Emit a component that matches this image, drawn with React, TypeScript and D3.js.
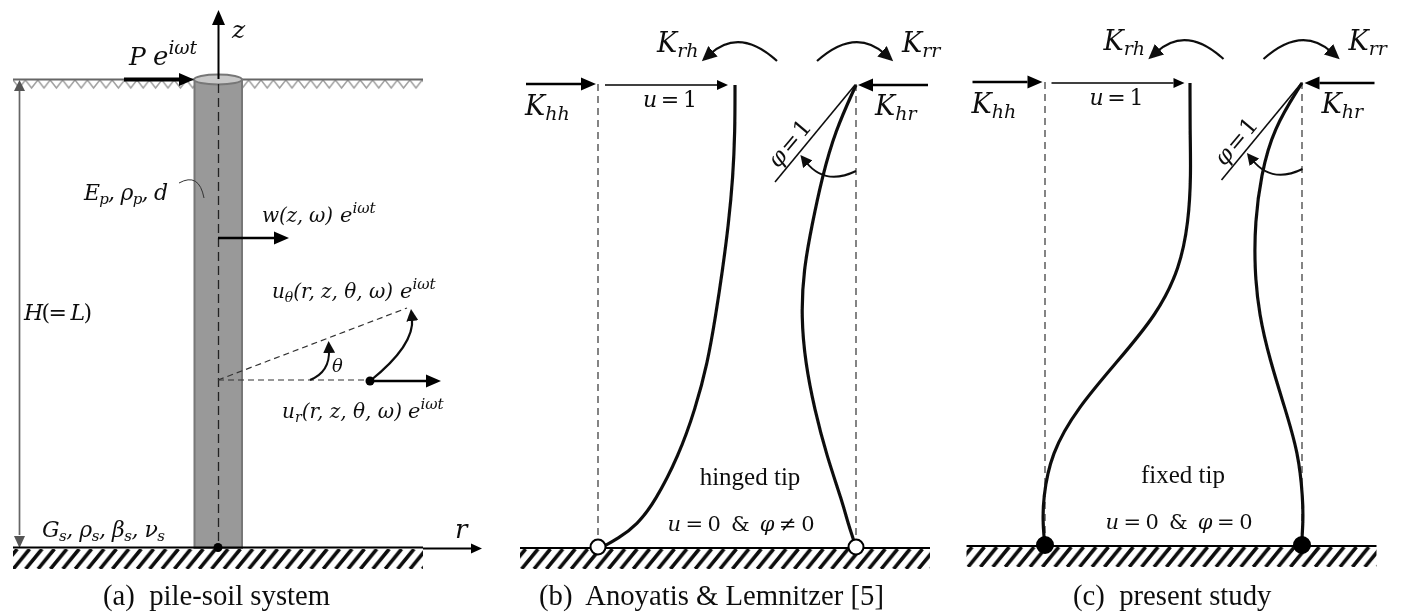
import React from 'react';
import * as d3 from 'd3';

// depth along the pile, 0 = head, 1 = tip
const depths = [0, 0.1, 0.2, 0.3, 0.4, 0.5, 0.6, 0.7, 0.8, 0.9, 0.95, 0.98, 1];

// deflected shapes, in units of the head displacement
const hingedU = [1, 1, 0.985, 0.953, 0.909, 0.858, 0.8, 0.71, 0.59, 0.416, 0.285, 0.146, 0.02];
const hingedPhi = [0, 0.153, 0.248, 0.32, 0.383, 0.4, 0.37, 0.303, 0.215, 0.1, 0.055, 0.02, 0];
const fixedU = [1, 1, 1.007, 0.99, 0.93, 0.772, 0.503, 0.228, 0.04, -0.014, -0.014, -0.007, 0];
const fixedPhi = [0, 0.2, 0.283, 0.324, 0.328, 0.297, 0.22, 0.12, 0.024, -0.007, -0.007, 0, 0];

const captions = ['(a)  pile-soil system', '(b)  Anoyatis & Lemnitzer [5]', '(c)  present study'];
const tipLabels = ['hinged tip', 'fixed tip'];
const tipConditions = ['u = 0  &  φ ≠ 0', 'u = 0  &  φ = 0'];

const SERIF = '"Liberation Serif", serif';
const MATH = '"DejaVu Serif", serif';

const yDepth = d3.scaleLinear().domain([0, 1]).range([85, 548]);

function shape(values: number[], x: d3.ScaleLinear<number, number>) {
  const line = d3
    .line<number>()
    .x((v) => x(v))
    .y((_, i) => yDepth(depths[i]))
    .curve(d3.curveBasis);
  return line(values) || '';
}

function Arrow({ x1, y1, x2, y2, w = 2, color = '#000', head = 'big' }: any) {
  const a = Math.atan2(y2 - y1, x2 - x1);
  const l = head === 'big' ? 15 : 11;
  const r = head === 'big' ? 6.5 : 5;
  const bx = x2 - l * Math.cos(a);
  const by = y2 - l * Math.sin(a);
  const pts = [
    [x2, y2],
    [bx - r * Math.sin(a), by + r * Math.cos(a)],
    [bx + r * Math.sin(a), by - r * Math.cos(a)],
  ];
  return (
    <g>
      <line x1={x1} y1={y1} x2={bx} y2={by} stroke={color} strokeWidth={w} />
      <polygon points={pts.map((p) => p.join(',')).join(' ')} fill={color} />
    </g>
  );
}

// symbols italic, digits and operators upright
function Mixed({ s }: { s: string }) {
  return (
    <>
      {s.split(/([uφ])/).map((part, i) => (
        <tspan key={i} fontStyle={part === 'u' || part === 'φ' ? 'italic' : 'normal'}>
          {part}
        </tspan>
      ))}
    </>
  );
}

// main symbol with subscript
function Sym({ x, y, main, sub, size = 27, subSize = 19 }: any) {
  return (
    <text x={x} y={y} fontFamily={MATH} fontSize={size} fontStyle="italic" fill="#111">
      {main}
      {sub && (
        <tspan fontSize={subSize} dy={5}>
          {sub}
        </tspan>
      )}
    </text>
  );
}

function Exp({ x, y, size = 21 }: any) {
  return (
    <text x={x} y={y} fontFamily={MATH} fontSize={size} fontStyle="italic" fill="#111">
      e
      <tspan fontSize={size * 0.72} dy={-size * 0.42}>
        iωt
      </tspan>
    </text>
  );
}

function Panel({ dx, u, phi, uX, phiX, label, labelX, condition, condX, fixed }: any) {
  const leftX = uX(0);
  const rightX = phiX(0);
  return (
    <g>
      <rect x={dx + 520} y={549} width={410} height={20} fill="url(#hatch)" />
      <line x1={dx + 520} x2={dx + 930} y1={548} y2={548} stroke="#000" strokeWidth={2} />

      <line x1={leftX} x2={leftX} y1={84} y2={540} stroke="#444" strokeWidth={1.3} strokeDasharray="7 5" />
      <line x1={rightX} x2={rightX} y1={84} y2={540} stroke="#444" strokeWidth={1.3} strokeDasharray="7 5" />

      <path d={shape(u, uX)} fill="none" stroke="#111" strokeWidth={3.2} />
      <path d={shape(phi, phiX)} fill="none" stroke="#111" strokeWidth={3.2} />

      <circle cx={leftX} cy={547} r={fixed ? 8 : 7.5} fill={fixed ? '#000' : '#fff'} stroke="#000" strokeWidth={2} />
      <circle cx={rightX} cy={547} r={fixed ? 8 : 7.5} fill={fixed ? '#000' : '#fff'} stroke="#000" strokeWidth={2} />

      <Arrow x1={dx + 526} y1={84} x2={dx + 596} y2={84} w={2.5} />
      <Arrow x1={dx + 605} y1={85} x2={dx + (fixed ? 738 : 728)} y2={85} w={1.7} head="small" />
      <Arrow x1={dx + 928} y1={85} x2={dx + 858} y2={85} w={2.5} />

      <line x1={dx + 855} y1={85} x2={dx + 775} y2={182} stroke="#111" strokeWidth={1.6} />
      <path
        d={`M${dx + 856},171 Q${dx + 825},186 ${dx + 806},162`}
        fill="none"
        stroke="#111"
        strokeWidth={2}
        markerEnd="url(#headSmall)"
      />
      <text
        transform={`translate(${dx + 778},169) rotate(-50)`}
        fontFamily={MATH}
        fontSize={23}
        fill="#111"
        textLength={54}
      >
        <Mixed s="φ = 1" />
      </text>

      <path d={`M${dx + 777},61 Q${dx + 740},27 ${dx + 710},54`} fill="none" stroke="#111" strokeWidth={2.2} markerEnd="url(#headBig)" />
      <path d={`M${dx + 817},61 Q${dx + 855},27 ${dx + 885},54`} fill="none" stroke="#111" strokeWidth={2.2} markerEnd="url(#headBig)" />

      <Sym x={dx + 657} y={52} main="K" sub="rh" />
      <Sym x={dx + 902} y={52} main="K" sub="rr" />
      <Sym x={dx + 525} y={115} main="K" sub="hh" />
      <Sym x={dx + 875} y={115} main="K" sub="hr" />
      <text x={dx + 643} y={107} fontFamily={MATH} fontSize={22} fill="#111" textLength={54}>
        <Mixed s="u = 1" />
      </text>

      <text x={labelX} y={485} textAnchor="middle" fontFamily={SERIF} fontSize={25} fill="#111">
        {label}
      </text>
      <text x={condX} y={531} textAnchor="middle" fontFamily={MATH} fontSize={21} fill="#111" xmlSpace="preserve" textLength={147}>
        <Mixed s={condition} />
      </text>
    </g>
  );
}

export default function App() {
  const uB = d3.scaleLinear().domain([0, 1]).range([598, 735]);
  const phiB = d3.scaleLinear().domain([0, 1]).range([856, 719]);
  const uC = d3.scaleLinear().domain([0, 1]).range([1045, 1190]);
  const phiC = d3.scaleLinear().domain([0, 1]).range([1302, 1157]);

  return (
    <svg
      width={1402}
      height={613}
      viewBox="0 0 1402 613"
      style={{ position: 'absolute', left: 0, top: 0, background: '#fff' }}
    >
      <defs>
        <pattern id="hatch" patternUnits="userSpaceOnUse" width={12.4} height={20} patternTransform="translate(13,549)">
          <path
            d="M-12.2,20 L4.2,0 M0.2,20 L16.6,0 M12.6,20 L29,0 M-24.6,20 L-8.2,0"
            stroke="#111"
            strokeWidth={3.6}
          />
        </pattern>
        <pattern id="zig" patternUnits="userSpaceOnUse" width={12.4} height={10} patternTransform="translate(13,80)">
          <path d="M0,0 L6.2,8 L12.4,0" fill="none" stroke="#a0a0a0" strokeWidth={1.5} />
        </pattern>
        <marker id="headBig" markerUnits="userSpaceOnUse" markerWidth={18} markerHeight={14} refX={4} refY={7} orient="auto">
          <path d="M0,0 L15,7 L0,14 Z" fill="#111" />
        </marker>
        <marker id="headSmall" markerUnits="userSpaceOnUse" markerWidth={14} markerHeight={12} refX={3} refY={6} orient="auto">
          <path d="M0,0 L12,6 L0,12 Z" fill="#111" />
        </marker>
        <filter id="soft" x="0" y="0" width="100%" height="100%">
          <feGaussianBlur stdDeviation={0.45} />
        </filter>
      </defs>

      <g filter="url(#soft)">
        {/* (a) pile-soil system */}
        <rect x={13} y={80} width={410} height={10} fill="url(#zig)" />
        <line x1={13} x2={423} y1={79.5} y2={79.5} stroke="#666" strokeWidth={2} />

        <rect x={194.5} y={80} width={47.5} height={468} fill="#999" stroke="#777" strokeWidth={2} />
        <ellipse cx={218} cy={79.5} rx={24} ry={5} fill="#c8c8c8" stroke="#777" strokeWidth={2} />

        <line x1={19.5} x2={19.5} y1={90} y2={535} stroke="#666" strokeWidth={1.7} />
        <polygon points="19.5,80 14,91 25,91" fill="#555" />
        <polygon points="19.5,548 14,536 25,536" fill="#555" />

        <rect x={13} y={549} width={410} height={20} fill="url(#hatch)" />
        <line x1={13} x2={423} y1={547.5} y2={547.5} stroke="#000" strokeWidth={2} />

        <line x1={218.5} x2={218.5} y1={84} y2={545} stroke="#222" strokeWidth={1.3} strokeDasharray="9 5" />
        <Arrow x1={218.5} y1={79} x2={218.5} y2={10} w={2} />
        <Arrow x1={423} y1={548.5} x2={482} y2={548.5} w={1.8} head="small" />
        <Arrow x1={124} y1={79.5} x2={194} y2={79.5} w={4} />
        <circle cx={218} cy={547.5} r={4.5} fill="#000" />

        <Sym x={129} y={65} main="P" size={25} />
        <Exp x={153} y={65} size={26} />
        <Sym x={232} y={38} main="z" size={25} />

        <text x={84} y={200} fontFamily={MATH} fontSize={22} fontStyle="italic" fill="#111" textLength={84}>
          E
          <tspan fontSize={15} dy={4}>
            p
          </tspan>
          <tspan dy={-4}>, ρ</tspan>
          <tspan fontSize={15} dy={4}>
            p
          </tspan>
          <tspan dy={-4}>, d</tspan>
        </text>
        <path d="M179,183 Q199,172 204,198" fill="none" stroke="#333" strokeWidth={1} />

        <Arrow x1={218} y1={238} x2={289} y2={238} w={2.6} />
        <text x={262} y={222} fontFamily={MATH} fontSize={20} fontStyle="italic" fill="#111" textLength={71}>
          w(z, ω)
        </text>
        <Exp x={340} y={222} size={21} />

        <text x={272} y={298} fontFamily={MATH} fontSize={20} fontStyle="italic" fill="#111" textLength={121}>
          u
          <tspan fontSize={14} dy={4}>
            θ
          </tspan>
          <tspan dy={-4}>(r, z, θ, ω)</tspan>
        </text>
        <Exp x={400} y={298} size={21} />
        <text x={282} y={418} fontFamily={MATH} fontSize={20} fontStyle="italic" fill="#111" textLength={120}>
          u
          <tspan fontSize={14} dy={4}>
            r
          </tspan>
          <tspan dy={-4}>(r, z, θ, ω)</tspan>
        </text>
        <Exp x={408} y={418} size={21} />

        <line x1={218} y1={380} x2={407} y2={308} stroke="#333" strokeWidth={1.2} strokeDasharray="6 4" />
        <line x1={218} y1={380} x2={368} y2={380} stroke="#333" strokeWidth={1.2} strokeDasharray="6 4" />
        <path d="M310,380 Q330,372 329,350" fill="none" stroke="#111" strokeWidth={2} markerEnd="url(#headSmall)" />
        <path d="M370,381 Q415,345 412,318" fill="none" stroke="#111" strokeWidth={2.2} markerEnd="url(#headSmall)" />
        <circle cx={370} cy={381} r={4.5} fill="#000" />
        <Arrow x1={370} y1={381} x2={441} y2={381} w={2.6} />
        <Sym x={332} y={372} main="θ" size={18} />

        <text x={24} y={320} fontFamily={MATH} fontSize={22} fill="#111" textLength={68}>
          <tspan fontStyle="italic">H</tspan>(= <tspan fontStyle="italic">L</tspan>)
        </text>
        <text x={42} y={537} fontFamily={MATH} fontSize={22} fontStyle="italic" fill="#111" textLength={123}>
          G
          <tspan fontSize={15} dy={4}>
            s
          </tspan>
          <tspan dy={-4}>, ρ</tspan>
          <tspan fontSize={15} dy={4}>
            s
          </tspan>
          <tspan dy={-4}>, β</tspan>
          <tspan fontSize={15} dy={4}>
            s
          </tspan>
          <tspan dy={-4}>, ν</tspan>
          <tspan fontSize={15} dy={4}>
            s
          </tspan>
        </text>
        <Sym x={455} y={538} main="r" size={26} />

        {/* (b) and (c) */}
        <Panel
          dx={0}
          u={hingedU}
          phi={hingedPhi}
          uX={uB}
          phiX={phiB}
          label={tipLabels[0]}
          labelX={750}
          condition={tipConditions[0]}
          condX={741}
        />
        <g transform="translate(0,-2)">
          <Panel
            dx={446.5}
            u={fixedU}
            phi={fixedPhi}
            uX={uC}
            phiX={phiC}
            label={tipLabels[1]}
            labelX={1183}
            condition={tipConditions[1]}
            condX={1179}
            fixed
          />
        </g>

        <text x={103} y={605} fontFamily={SERIF} fontSize={28.7} fill="#111" xmlSpace="preserve">
          {captions[0]}
        </text>
        <text x={539} y={605} fontFamily={SERIF} fontSize={28.7} fill="#111" xmlSpace="preserve">
          {captions[1]}
        </text>
        <text x={1073} y={605} fontFamily={SERIF} fontSize={28.7} fill="#111" xmlSpace="preserve">
          {captions[2]}
        </text>
      </g>
    </svg>
  );
}
